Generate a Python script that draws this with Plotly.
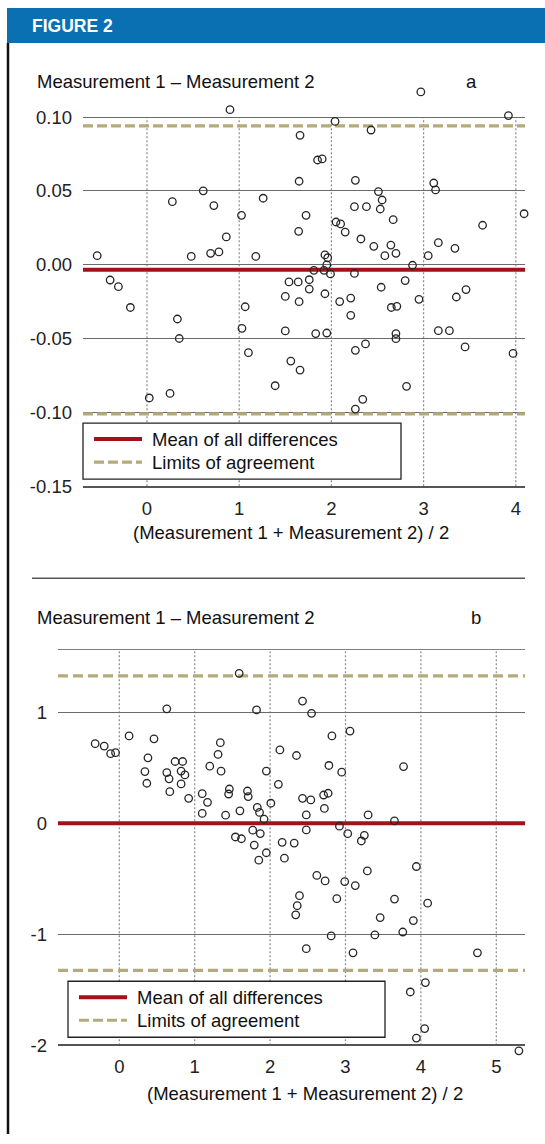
import plotly.graph_objects as go

# ---------------- data ----------------
# Panel a : Bland-Altman points
a_mean_x = [0.90, 2.97, 0.275, 0.61, 0.725, 1.025, 1.26, 0.86, 0.69, 0.78, 0.48, 1.18, -0.54, -0.40,
            -0.31, -0.18, 0.33, 0.35, 0.025, 0.25, 1.065, 1.03, 1.10, 1.39, 3.92, 2.04, 1.66, 2.43,
            1.85, 1.90, 1.65, 2.26, 3.11, 3.13, 2.51, 2.55, 2.25, 2.38, 2.53, 2.67, 1.725, 1.645,
            2.05, 2.10, 2.15, 2.32, 2.46, 2.645, 2.70, 2.58, 3.64, 4.09, 3.16, 3.34, 3.05, 2.88,
            1.93, 1.96, 1.95, 1.81, 1.92, 1.99, 2.25, 1.54, 1.64, 1.76, 1.76, 2.54, 2.80, 3.46,
            3.355, 2.95, 1.50, 1.93, 2.09, 2.21, 1.65, 2.21, 2.65, 2.71, 1.50, 1.83, 1.95, 2.70,
            2.70, 3.16, 3.28, 3.45, 3.97, 2.26, 2.37, 1.56, 1.66, 2.815, 2.34, 2.26]
a_diff_y = [0.105, 0.117, 0.0427, 0.050, 0.040, 0.0334, 0.045, 0.0188, 0.0077, 0.0086, 0.0056, 0.0056,
            0.0061, -0.0104, -0.0149, -0.029, -0.0368, -0.050, -0.0903, -0.0872, -0.0285, -0.0431,
            -0.0596, -0.082, 0.101, 0.097, 0.0876, 0.0912, 0.0709, 0.0716, 0.0565, 0.0571, 0.0553,
            0.0506, 0.0495, 0.0438, 0.0393, 0.0393, 0.0377, 0.0305, 0.0334, 0.0226, 0.0289, 0.0276,
            0.0221, 0.0174, 0.0124, 0.0133, 0.0077, 0.0061, 0.0267, 0.0345, 0.0149, 0.0111, 0.0061,
            -0.0004, 0.0066, 0.0047, -0.0002, -0.0038, -0.0038, -0.0063, -0.0059, -0.0117, -0.0117,
            -0.0102, -0.0165, -0.0153, -0.0108, -0.0169, -0.0219, -0.0235, -0.0215, -0.0197, -0.025,
            -0.0226, -0.0251, -0.0343, -0.029, -0.0282, -0.0449, -0.0467, -0.0463, -0.0467, -0.0501,
            -0.0447, -0.0447, -0.0557, -0.0601, -0.058, -0.0537, -0.0653, -0.0714, -0.0824, -0.0912,
            -0.0978]
a_bias = -0.0035
a_limits = [-0.101, 0.094]

# Panel b : Bland-Altman points
b_mean_x = [1.59, 0.63, 1.82, 0.13, 0.46, -0.32, -0.20, -0.115, -0.05, 0.38, 0.34, 0.365, 0.74, 0.84,
            0.63, 0.82, 0.87, 0.66, 0.82, 0.67, 0.92, 1.34, 1.31, 1.20, 1.35, 1.10, 1.17, 1.10, 1.41,
            1.46, 1.45, 1.70, 1.71, 1.60, 1.83, 1.86, 1.92, 1.95, 2.01, 2.13, 2.11, 1.54, 1.77, 1.87,
            1.62, 1.79, 1.95, 1.85, 2.43, 2.55, 2.82, 3.06, 2.35, 2.78, 2.95, 3.77, 2.43, 2.54, 2.71,
            2.77, 2.72, 2.48, 3.30, 3.65, 2.48, 2.92, 3.03, 3.25, 3.21, 2.16, 2.32, 2.19, 2.62, 2.73,
            2.99, 3.13, 3.29, 3.94, 2.39, 2.36, 2.34, 2.885, 3.65, 4.09, 3.46, 3.90, 2.81, 3.39, 3.76,
            2.48, 3.10, 4.75, 4.06, 3.86, 4.05, 3.94, 5.30]
b_diff_y = [1.35, 1.03, 1.02, 0.786, 0.76, 0.716, 0.695, 0.626, 0.635, 0.589, 0.465, 0.36, 0.556, 0.556,
            0.456, 0.47, 0.435, 0.40, 0.354, 0.284, 0.224, 0.725, 0.62, 0.514, 0.469, 0.266, 0.188,
            0.088, 0.072, 0.308, 0.263, 0.29, 0.24, 0.112, 0.142, 0.097, 0.036, 0.47, 0.18, 0.66,
            0.35, -0.124, -0.063, -0.093, -0.14, -0.197, -0.266, -0.333, 1.10, 0.99, 0.786, 0.83,
            0.61, 0.52, 0.46, 0.51, 0.224, 0.21, 0.254, 0.27, 0.133, 0.075, 0.075, 0.021, -0.06,
            -0.027, -0.094, -0.109, -0.16, -0.172, -0.179, -0.315, -0.47, -0.52, -0.526, -0.562,
            -0.43, -0.39, -0.653, -0.743, -0.825, -0.68, -0.683, -0.72, -0.85, -0.877, -1.015,
            -1.006, -0.98, -1.13, -1.167, -1.167, -1.435, -1.52, -1.85, -1.935, -2.05]
b_bias = 0.0
b_limits = [-1.325, 1.327]

# tick labels
a_xticks = [0, 1, 2, 3, 4]
a_yticks = [0.10, 0.05, 0.00, -0.05, -0.10, -0.15]
a_yticklabels = ["0.10", "0.05", "0.00", "-0.05", "-0.10", "-0.15"]
b_xticks = [0, 1, 2, 3, 4, 5]
b_yticks = [1, 0, -1, -2]
b_yticklabels = ["1", "0", "-1", "-2"]

y_title = "Measurement 1 \u2013 Measurement 2"
x_title = "(Measurement 1 + Measurement 2) / 2"
legend_labels = ["Mean of all differences", "Limits of agreement"]

# ---------------- style ----------------
W, H = 545, 1144
FONT = "Liberation Sans, Arial, sans-serif"
FS = 18.5
RED = "#A3121A"
KHAKI = "#B5AA7B"
BLUE = "#0A70B2"
GRID = "#6a6a6a"
DOT = "#8a8a8a"

# vertical placement correction (the captured page comes out slightly compressed vertically)
SY = 0.991


def X(p):
    return p / W


def Y(p):
    return 1 - (p / SY) / H


# axis ranges (px scale: panel a 1476 px/unit in y, panel b 111 px/unit in y)
XR_A = [-0.694, 4.0998]
YR_A = [-0.15, 0.1225]
XR_B = [-0.813, 5.381]
YR_B = [-2.08, 1.5676]
A_TOP_PX = 117 - (YR_A[1] - 0.10) * 1476
B_BOT_PX = 1045 + (-2.0 - YR_B[0]) * 111

fig = go.Figure()

# panel a
fig.add_trace(go.Scatter(x=XR_A, y=[a_bias, a_bias], mode="lines", line=dict(color=RED, width=4),
                         xaxis="x", yaxis="y", showlegend=False, hoverinfo="skip"))
fig.add_trace(go.Scatter(x=[XR_A[0], XR_A[1], None, XR_A[0], XR_A[1]],
                         y=[a_limits[0], a_limits[0], None, a_limits[1], a_limits[1]],
                         mode="lines", line=dict(color=KHAKI, width=3.2, dash="10px,4px"),
                         xaxis="x", yaxis="y", showlegend=False, hoverinfo="skip"))
fig.add_trace(go.Scatter(x=a_mean_x, y=a_diff_y, mode="markers", cliponaxis=False,
                         marker=dict(symbol="circle-open", size=7.5, color="#262626",
                                     line=dict(width=1.3)),
                         xaxis="x", yaxis="y", showlegend=False))

# panel b
fig.add_trace(go.Scatter(x=XR_B, y=[b_bias, b_bias], mode="lines", line=dict(color=RED, width=4),
                         xaxis="x2", yaxis="y2", showlegend=False, hoverinfo="skip"))
fig.add_trace(go.Scatter(x=[XR_B[0], XR_B[1], None, XR_B[0], XR_B[1]],
                         y=[b_limits[0], b_limits[0], None, b_limits[1], b_limits[1]],
                         mode="lines", line=dict(color=KHAKI, width=3.2, dash="10px,5px"),
                         xaxis="x2", yaxis="y2", showlegend=False, hoverinfo="skip"))
fig.add_trace(go.Scatter(x=b_mean_x, y=b_diff_y, mode="markers", cliponaxis=False,
                         marker=dict(symbol="circle-open", size=7.5, color="#262626",
                                     line=dict(width=1.3)),
                         xaxis="x2", yaxis="y2", showlegend=False))

tickfont = dict(family=FONT, size=FS, color="#222222")

common_x = dict(showgrid=False, zeroline=False,
                showline=True, linecolor="#555555", linewidth=1.5, ticks="", tickfont=tickfont,
                ticklabelstandoff=5, fixedrange=True)
common_y = dict(showgrid=True, gridcolor=GRID, gridwidth=1.4, zeroline=False, showline=False,
                ticks="", tickfont=tickfont, ticklabelstandoff=10, fixedrange=True)

fig.update_layout(
    width=W, height=H, autosize=False,
    margin=dict(l=0, r=0, t=0, b=0),
    paper_bgcolor="white", plot_bgcolor="white",
    font=dict(family=FONT, size=FS, color="#111111"),
    showlegend=False,
    xaxis=dict(domain=[X(83), X(525)], range=XR_A, anchor="y", tickvals=a_xticks,
               ticktext=[str(v) for v in a_xticks], **common_x),
    yaxis=dict(domain=[Y(486), Y(A_TOP_PX)], range=YR_A, anchor="x", tickvals=a_yticks,
               ticktext=a_yticklabels, **common_y),
    xaxis2=dict(domain=[X(58), X(525)], range=XR_B, anchor="free", position=Y(1045),
                tickvals=b_xticks, ticktext=[str(v) for v in b_xticks], **common_x),
    yaxis2=dict(domain=[Y(B_BOT_PX), Y(649)], range=YR_B, anchor="x2", tickvals=b_yticks,
                ticktext=b_yticklabels, **common_y),
)

shapes = [
    # header bar
    dict(type="rect", xref="paper", yref="paper", x0=X(7), x1=1, y0=Y(43), y1=Y(8),
         fillcolor=BLUE, line=dict(width=0), layer="above"),
    # left border
    dict(type="line", xref="paper", yref="paper", x0=X(8), x1=X(8), y0=Y(43), y1=0,
         line=dict(color="#111111", width=2.5)),
    # separator
    dict(type="line", xref="paper", yref="paper", x0=X(32), x1=X(525), y0=Y(578), y1=Y(578),
         line=dict(color="#555555", width=1.5)),
    # top frame line of panel b
    dict(type="line", xref="x2 domain", yref="y2", x0=0, x1=1, y0=YR_B[1], y1=YR_B[1],
         line=dict(color="#555555", width=1.5)),
]

# vertical dotted grid lines at the x ticks
for v in a_xticks:
    shapes.append(dict(type="line", xref="x", yref="y", x0=v, x1=v, y0=min(a_yticks),
                       y1=max(a_yticks), line=dict(color=DOT, width=1.2, dash="2px,2px"),
                       layer="below"))
for v in b_xticks:
    shapes.append(dict(type="line", xref="x2", yref="y2", x0=v, x1=v, y0=min(b_yticks),
                       y1=YR_B[1], line=dict(color=DOT, width=1.2, dash="2px,2px"),
                       layer="below"))


def ann(text, x, y, xanchor="left", size=FS, color="#111111"):
    return dict(text=text, x=X(x), y=Y(y), xref="paper", yref="paper", xanchor=xanchor,
                yanchor="middle", showarrow=False, font=dict(family=FONT, size=size, color=color))


annotations = [ann("<b>FIGURE 2</b>", 30, 26, size=17.5, color="white")]


def add_panel(title_y, letter_x, letter, xtitle_cx, xtitle_y, box):
    bx0, by0, bx1, by1, l1y, l2y = box
    annotations.append(ann(y_title, 35, title_y))
    annotations.append(ann(letter, letter_x, title_y, xanchor="center"))
    annotations.append(ann(x_title, xtitle_cx, xtitle_y, xanchor="center"))
    shapes.append(dict(type="rect", xref="paper", yref="paper", x0=X(bx0), x1=X(bx1),
                       y0=Y(by1), y1=Y(by0), fillcolor="white",
                       line=dict(color="#222222", width=1.3), layer="above"))
    shapes.append(dict(type="line", xref="paper", yref="paper", x0=X(bx0 + 11), x1=X(bx0 + 59),
                       y0=Y(l1y), y1=Y(l1y), line=dict(color=RED, width=4), layer="above"))
    shapes.append(dict(type="line", xref="paper", yref="paper", x0=X(bx0 + 11), x1=X(bx0 + 59),
                       y0=Y(l2y), y1=Y(l2y), line=dict(color=KHAKI, width=3.2, dash="10px,4px"),
                       layer="above"))
    annotations.append(ann(legend_labels[0], bx0 + 67, l1y))
    annotations.append(ann(legend_labels[1], bx0 + 67, l2y))


add_panel(81, 471, "a", 291, 532, (83, 423, 401, 479, 439, 462))
add_panel(617, 476, "b", 305, 1093, (68, 981, 385, 1037, 997, 1020))

fig.update_layout(shapes=shapes, annotations=annotations)

# pin the figure to the top-left corner of the page so the page is exactly the figure's size
post_js = (
    "var d=document.getElementById('{plot_id}');"
    "var de=document.documentElement,b=document.body;"
    "de.style.margin='0';de.style.padding='0';de.style.overflow='hidden';"
    "de.style.height='1144px';"
    "b.style.margin='0';b.style.padding='0';b.style.overflow='hidden';"
    "b.style.width='545px';b.style.height='1144px';"
    "var w=d.parentNode;b.insertBefore(d,b.firstChild);"
    "if(w&&w!==b){w.style.display='none';}"
    "d.style.position='fixed';d.style.left='0px';d.style.top='0px';d.style.overflow='hidden';"
)

fig.write_html("out.html", post_script=post_js, config={"displayModeBar": False})
